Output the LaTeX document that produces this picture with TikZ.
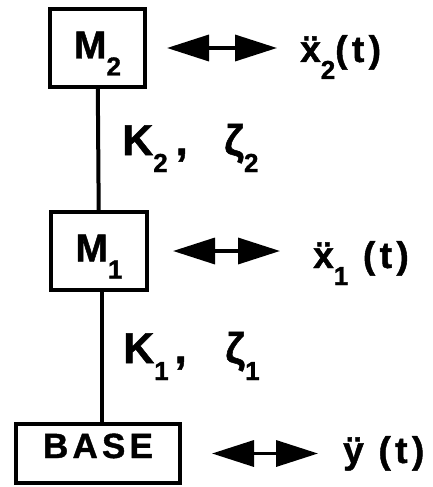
\documentclass[tikz,border=0pt]{standalone}
\usepackage{fontspec}
\setmainfont{Liberation Sans}
\newfontfamily\stencil{Liberation Sans}[LetterSpace=12, BoldFeatures={FakeBold=1.2}]
\usetikzlibrary{arrows.meta, positioning, calc}

\newcommand{\lowsub}[1]{\raisebox{-17pt}{\fontsize{26}{26}\selectfont #1}}

\begin{document}
\begin{tikzpicture}[x=1pt, y=-1pt,
    mass/.style={draw, line width=4pt, inner sep=0pt, minimum width=96pt,
      minimum height=78pt, text height=30pt, text depth=9pt,
      font=\stencil\bfseries\fontsize{39}{39}\selectfont},
    spring/.style={line width=4pt},
    shake/.style={line width=3.5pt,
      {Triangle[length=42pt, width=26pt]}-{Triangle[length=42pt, width=26pt]}},
    resp/.style={anchor=base west, inner sep=0pt,
      font=\stencil\bfseries\fontsize{37}{37}\selectfont},
    coef/.style={anchor=base west, inner sep=0pt,
      font=\stencil\bfseries\fontsize{43}{43}\selectfont}]

  \useasboundingbox (0,0) rectangle (432,487);

  % ── Masses and base ─────────────────────────────────────────────────────
  \node[mass, minimum width=95pt] (m2) at (97.5,48) {M\lowsub{2}};
  \node[mass] (m1) at (99,251) {M\lowsub{1}};
  \node[mass, minimum width=164pt, minimum height=59pt, text height=25pt,
    text depth=16pt, font=\stencil\bfseries\fontsize{35}{35}\selectfont]
    (base) at (98,453.5) {BASE};

  % ── Springs ─────────────────────────────────────────────────────────────
  \draw[spring] (m2) -- (m1);
  \draw[spring] ([xshift=3pt]m1.south) -- ([xshift=3pt]m1.south |- base.north);

  % ── Stiffness / damping ─────────────────────────────────────────────────
  \node[coef] (k2) at (122,155)
    {K\lowsub{2}\hspace{8pt},\hspace{0.85em}ζ\lowsub{2}};
  \node[coef] (k1) at (123,363)
    {K\lowsub{1}\hspace{6pt},\hspace{0.9em}ζ\lowsub{1}};

  % ── Responses ───────────────────────────────────────────────────────────
  \node[resp] (x2) at (300,62) {\"x\lowsub{2}(t)};
  \node[resp] (x1) at (313,268) {\"x\lowsub{1} (t)};
  \node[resp] (yb) at (343,463) {\"y (t)};

  % ── Double arrows ───────────────────────────────────────────────────────
  \foreach \src/\dst/\gapa/\gapb in {m2/x2/20/23, m1/x1/24/33, base/yb/30/25}
    \draw[shake, shorten <=\gapa pt, shorten >=\gapb pt]
      (\src.east) -- (\src.east -| \dst.west);
\end{tikzpicture}
\end{document}
